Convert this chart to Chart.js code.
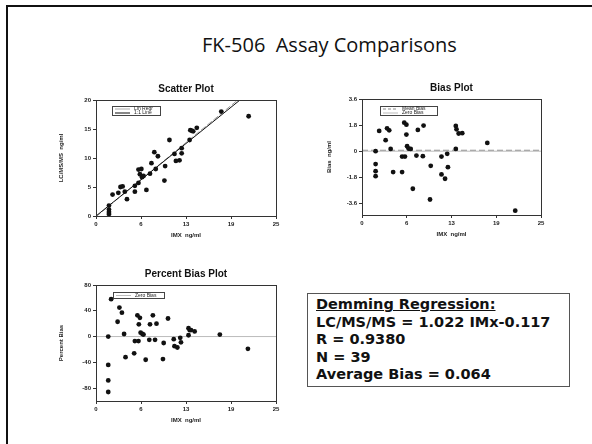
<!DOCTYPE html>
<html>
<head>
<meta charset="utf-8">
<script src="https://cdn.jsdelivr.net/npm/chart.js@4.4.1/dist/chart.umd.min.js"></script>
<style>
  body { margin: 0; background: #fff; width: 592px; height: 444px; overflow: hidden; position: relative; }
  #frame { position: absolute; left: 6px; top: 5px; width: 600px; height: 460px; border-left: 2px solid #111; border-top: 2px solid #111; }
  #title { position: absolute; left: 202px; top: 32px; line-height: 26px; font-family: "Open Sans", Lato, sans-serif; font-size: 20px; color: #111; white-space: pre; }
  canvas { position: absolute; }
  #stats { position: absolute; left: 307px; top: 293px; width: 253px; height: 90px; padding: 2px 0 0 8px; border: 1px solid #555;
           font-family: "DejaVu Sans", Verdana, sans-serif; font-weight: bold; font-size: 14.5px; line-height: 17.5px; color: #111; white-space: nowrap; }
  #stats u { text-decoration: underline; }
</style>
</head>
<body>
<div id="frame"></div>
<div id="title">FK-506  Assay Comparisons</div>
<canvas id="scatterChart" width="270" height="175" style="left:20px;top:78px"></canvas>
<canvas id="biasChart" width="269" height="175" style="left:286px;top:77px"></canvas>
<canvas id="pctChart" width="270" height="175" style="left:20px;top:263px"></canvas>
<div id="stats"><u>Demming Regression:</u><br>LC/MS/MS = 1.022 IMx-0.117<br>R = 0.9380<br>N = 39<br>Average Bias = 0.064</div>
<script>
// x ticks are shared by all three plots
const xTickValues = [0, 6.25, 12.5, 18.75, 25];
const xTickLabels = ['0', '6', '13', '19', '25'];

// scatter plot: IMX vs LC/MS/MS (ng/ml)
const imxScatter = [1.8, 1.8, 1.8, 1.8, 2.3, 3.1, 3.4, 3.7, 4.0, 4.3, 5.4, 5.4, 5.9, 5.9, 6.3, 6.1, 6.4, 6.6, 7.0, 7.5,
  7.7, 8.1, 8.3, 8.6, 9.5, 9.6, 10.2, 10.9, 11.1, 11.6, 11.9, 11.9, 13.0, 13.1, 13.3, 13.5, 14.0, 17.4, 21.2];
const lcScatter = [1.8, 1.1, 0.7, 0.35, 3.7, 4.0, 5.0, 5.1, 4.2, 2.9, 4.2, 5.2, 5.7, 8.0, 8.1, 7.2, 6.7, 6.9, 4.5, 7.3,
  9.1, 11.0, 8.1, 10.3, 6.1, 8.6, 13.1, 10.7, 9.5, 9.6, 11.7, 10.8, 13.1, 14.8, 14.7, 14.6, 15.2, 18.0, 17.2];
const scatterYTicks = [0, 5, 10, 15, 20];
const slope = 1.022;
const intercept = -0.117;

// bias plot (ng/ml)
const imxBias = [1.9, 1.9, 1.9, 1.9, 2.4, 3.3, 3.5, 3.8, 4.0, 4.35, 5.6, 5.6, 6.0, 5.9, 6.2, 6.2, 6.3, 6.5, 6.8, 7.1,
  7.6, 7.8, 8.5, 8.6, 9.5, 9.6, 11.1, 11.1, 11.6, 11.9, 12.0, 13.1, 13.2, 13.1, 13.5, 14.0, 17.5, 21.4];
const bias = [0, -0.89, -1.38, -1.72, 1.4, 0.76, 1.58, 1.44, 0.16, -1.44, -0.37, -1.44, -0.37, 1.97, 1.83, 1.15, 0.34, 0.18, 0.16, -2.59,
  -0.3, 1.47, -0.34, 1.77, -3.33, -1.01, -0.37, -1.6, -1.9, -0.18, -1.1, 1.74, 1.51, 0.16, 1.22, 1.24, 0.57, -4.1];
const biasYTicks = [-3.6, -1.8, 0, 1.8, 3.6];
const meanBias = 0.064;

// percent bias plot
const imxPct = [1.7, 1.7, 1.7, 1.7, 2.1, 3.0, 3.25, 3.6, 3.9, 4.1, 5.3, 5.4, 5.9, 5.75, 6.1, 5.95, 6.2, 6.45, 6.6, 6.9,
  7.4, 7.5, 7.9, 8.2, 8.4, 9.3, 9.4, 10.0, 10.8, 10.9, 11.3, 11.7, 11.8, 12.85, 12.85, 13.0, 13.2, 13.7, 17.2, 21.1];
const pctBias = [0, -44, -68, -86, 58, 23, 45, 37, 4, -32, -26, -7, -7, 33, 29, 19, 6, 4, 3, -36,
  -5, 19, 33, -5, 20, -35, -10, 28, -4, -15, -17, -2, -9, 13, 2, 10, 10, 8, 3, -19];
const pctYTicks = [-80, -40, 0, 40, 80];

const axisFont = { family: 'Liberation Sans', size: 6, weight: 'bold' };

const toPoints = (xs, ys) => xs.map((x, i) => ({ x: x, y: ys[i] }));

// box around the plot, a bold title over it and a small legend inside
const framePlugin = {
  id: 'framePlugin',
  afterDraw(chart, args, opts) {
    const ctx = chart.ctx;
    const a = chart.chartArea;
    ctx.save();
    ctx.strokeStyle = '#333';
    ctx.lineWidth = 1;
    ctx.strokeRect(a.left + 0.5, a.top + 0.5, a.right - a.left, a.bottom - a.top);
    ctx.fillStyle = '#111';
    ctx.font = 'bold 10px "Liberation Sans"';
    ctx.textAlign = 'center';
    ctx.textBaseline = 'middle';
    ctx.fillText(opts.title, (a.left + a.right) / 2, a.top - 11);
    const lx = a.left + opts.legendX, ly = a.top + opts.legendY;
    const rowH = opts.rowH;
    ctx.fillStyle = '#fff';
    ctx.fillRect(lx, ly, opts.legendW, rowH * opts.items.length + 1);
    ctx.strokeStyle = '#444';
    ctx.strokeRect(lx + 0.5, ly + 0.5, opts.legendW, rowH * opts.items.length + 1);
    ctx.font = '5px "Liberation Sans"';
    ctx.textAlign = 'left';
    opts.items.forEach((item, i) => {
      const cy = ly + 1 + rowH * i + rowH / 2;
      ctx.strokeStyle = item.color;
      ctx.setLineDash(item.dash || []);
      ctx.beginPath();
      ctx.moveTo(lx + 3, cy);
      ctx.lineTo(lx + 18, cy);
      ctx.stroke();
      ctx.setLineDash([]);
      ctx.fillStyle = '#222';
      ctx.fillText(item.label, lx + 22, cy);
    });
    ctx.restore();
  }
};

function makeChart(id, datasets, yMin, yMax, yTicks, yTitle, yTitlePad, frameOpts) {
  return new Chart(document.getElementById(id), {
    type: 'scatter',
    data: { datasets: datasets },
    plugins: [framePlugin],
    options: {
      responsive: false,
      animation: false,
      layout: { padding: { top: 22, right: 14, left: 0, bottom: 0 } },
      plugins: { legend: { display: false }, tooltip: { enabled: false }, framePlugin: frameOpts },
      scales: {
        x: {
          type: 'linear', min: 0, max: 25,
          afterBuildTicks: (scale) => { scale.ticks = xTickValues.map(v => ({ value: v })); },
          afterFit: (scale) => { scale.height = 37; },
          ticks: { font: axisFont, color: '#222', padding: 2, maxRotation: 0, callback: (v, i) => xTickLabels[i] },
          grid: { drawOnChartArea: false, tickLength: 3, color: '#333' },
          border: { color: '#333' },
          title: { display: true, text: 'IMX  ng/ml', font: axisFont, color: '#222', padding: { top: 0, bottom: 14 } }
        },
        y: {
          type: 'linear', min: yMin, max: yMax,
          afterBuildTicks: (scale) => { scale.ticks = yTicks.map(v => ({ value: v })); },
          afterFit: (scale) => { scale.width = 76; },
          ticks: { font: axisFont, color: '#222', padding: 2, callback: (v) => String(v) },
          grid: { drawOnChartArea: false, tickLength: 3, color: '#333' },
          border: { color: '#333' },
          title: { display: true, text: yTitle, font: axisFont, color: '#222', padding: { top: yTitlePad, bottom: 0 } }
        }
      }
    }
  });
}

const dotStyle = { pointRadius: 2.4, pointBackgroundColor: '#111', pointBorderWidth: 0, showLine: false };

makeChart('scatterChart', [
  Object.assign({ data: toPoints(imxScatter, lcScatter) }, dotStyle),
  { data: [{ x: 0, y: 0 }, { x: 25, y: 25 }], showLine: true, borderColor: '#111', borderWidth: 1, pointRadius: 0 },
  { data: [{ x: 0, y: intercept }, { x: 25, y: slope * 25 + intercept }], showLine: true, borderColor: '#999',
    borderWidth: 1, borderDash: [6, 2], pointRadius: 0 }
], 0, 20, scatterYTicks, 'LC/MS/MS  ng/ml', 38,
{ title: 'Scatter Plot', legendX: 16, legendY: 6, legendW: 48, rowH: 4,
  items: [{ label: 'Lin Regr', color: '#aaa' }, { label: '1:1 Line', color: '#111' }] });

makeChart('biasChart', [
  Object.assign({ data: toPoints(imxBias, bias) }, dotStyle),
  { data: [{ x: 0, y: 0 }, { x: 25, y: 0 }], showLine: true, borderColor: '#bbb', borderWidth: 1, pointRadius: 0 },
  { data: [{ x: 0, y: meanBias }, { x: 25, y: meanBias }], showLine: true, borderColor: '#888', borderWidth: 1,
    borderDash: [6, 3], pointRadius: 0 }
], -4.4, 3.6, biasYTicks, 'Bias  ng/ml', 40,
{ title: 'Bias Plot', legendX: 18, legendY: 7, legendW: 57, rowH: 4,
  items: [{ label: 'Mean Bias', color: '#888', dash: [3, 2] }, { label: 'Zero Bias', color: '#bbb' }] });

makeChart('pctChart', [
  Object.assign({ data: toPoints(imxPct, pctBias) }, dotStyle),
  { data: [{ x: 0, y: 0 }, { x: 25, y: 0 }], showLine: true, borderColor: '#bbb', borderWidth: 1, pointRadius: 0 }
], -100, 80, pctYTicks, 'Percent Bias', 38,
{ title: 'Percent Bias Plot', legendX: 17, legendY: 7, legendW: 51, rowH: 5,
  items: [{ label: 'Zero Bias', color: '#bbb' }] });
</script>
</body>
</html>
